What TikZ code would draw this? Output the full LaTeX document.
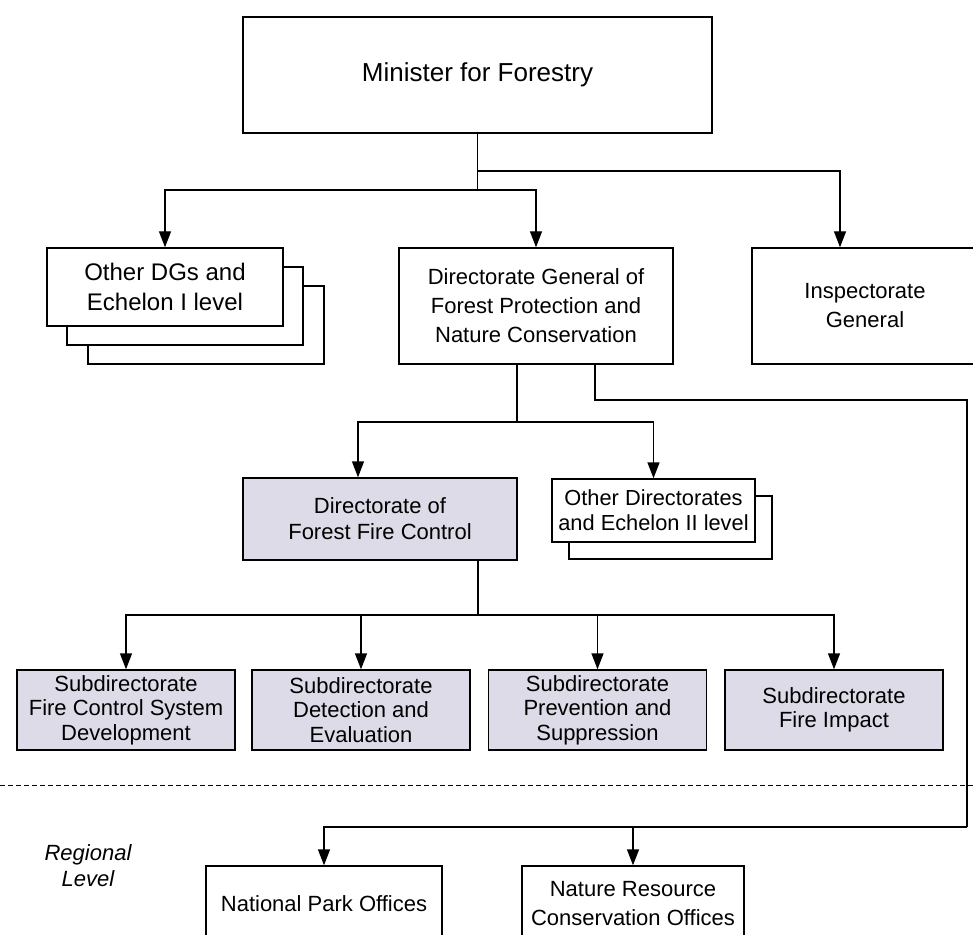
\documentclass[tikz,border=0pt]{standalone}
\usepackage{fontspec}
\setmainfont{Liberation Sans}
\usetikzlibrary{arrows.meta,shadows}
\definecolor{subgrey}{RGB}{221,219,231}

\begin{document}
\begin{tikzpicture}[x=0.5pt, y=-0.5pt, line width=0.7pt,
  b/.style={rectangle, draw, fill=white, inner sep=0pt, align=center, font=\fontsize{11}{14.5}\selectfont},
  g/.style={b, fill=subgrey},
  sd/.style={g, minimum width=109pt, minimum height=40pt, font=\fontsize{11}{12.2}\selectfont},
  arr/.style={-{Triangle[width=6pt,length=8pt]}}]
  \useasboundingbox (0,0) rectangle (973,935);

  \node[b, minimum width=234.5pt, minimum height=58pt, font=\fontsize{13}{16}\selectfont] (min) at (477.5,75) {Minister for Forestry};
  \node[b, minimum width=118pt, minimum height=39pt, font=\fontsize{12}{15}\selectfont,
    copy shadow={shadow xshift=20.5pt, shadow yshift=-19pt, draw, fill=white},
    copy shadow={shadow xshift=10pt, shadow yshift=-9.5pt, draw, fill=white}] (odg) at (165,287) {Other DGs and\\Echelon I level};
  \node[b, minimum width=137pt, minimum height=58pt] (dg) at (536,306) {Directorate General of\\Forest Protection and\\Nature Conservation};
  \node[b, minimum width=113pt, minimum height=58pt] (insp) at (865,306) {Inspectorate\\General};

  \node[g, minimum width=137pt, minimum height=41pt, font=\fontsize{11}{13}\selectfont] (ffc) at (380,519) {Directorate of\\Forest Fire Control};
  \node[b, minimum width=101.5pt, minimum height=31.5pt, font=\fontsize{10.9}{12.5}\selectfont,
    copy shadow={shadow xshift=8.5pt, shadow yshift=-8.5pt, draw, fill=white}] (odir) at (653.5,510.5) {Other Directorates\\and Echelon II level};

  \node[sd] (sd1) at (126,710) {Subdirectorate\\Fire Control System\\Development};
  \node[sd] (sd2) at (361,710) {Subdirectorate\\Detection and\\Evaluation};
  \node[sd] (sd3) at (597.5,710) {Subdirectorate\\Prevention and\\Suppression};
  \node[sd] (sd4) at (834,710) {Subdirectorate\\Fire Impact};

  \node[align=center, font=\fontsize{11}{13}\selectfont\itshape] (reg) at (88,866) {Regional\\Level};
  \node[b, minimum width=118pt, minimum height=38pt] (npo) at (324,904) {National Park Offices};
  \node[b, minimum width=111pt, minimum height=38pt] (nrc) at (633,904) {Nature Resource\\Conservation Offices};

  % minister to first level
  \coordinate (j1) at (477.5,190);
  \coordinate (j2) at (477.5,171);
  \draw (min.south) -- (j1);
  \draw[arr] (j1) -| (odg.north);
  \draw[arr] (j1) -| (dg.north);
  \draw[arr] (j2) -| ([xshift=-12.5pt]insp.north);

  % directorate general to directorates
  \coordinate (j3) at (517,422);
  \draw (dg.south -| j3) -- (j3);
  \draw[arr] (j3) -| ([xshift=-11pt]ffc.north);
  \draw[arr] (j3) -| (odir.north);

  % fire control to subdirectorates
  \coordinate (j4) at (478,615);
  \draw (ffc.south -| j4) -- (j4);
  \foreach \s in {sd1,sd2,sd3,sd4}
    \draw[arr] (j4) -| (\s.north);

  % regional level
  \coordinate (r1) at (595,400);
  \coordinate (r2) at (967,827);
  \draw (dg.south -| r1) |- (r2 |- r1) -- (r2);
  \draw[arr] (r2) -| (npo.north);
  \draw[arr] (r2) -| (nrc.north);

  \draw[line width=0.5pt, dash pattern=on 2.5pt off 1.5pt] (0,785) -- (973,785);
\end{tikzpicture}
\end{document}
